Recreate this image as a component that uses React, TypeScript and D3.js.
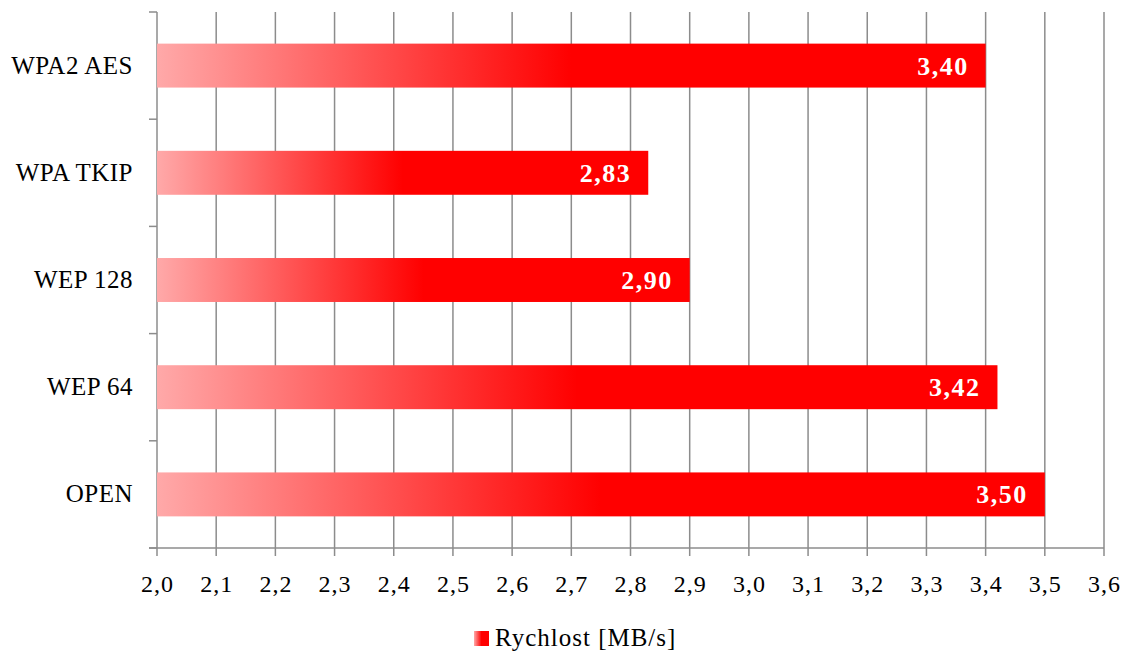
import React from "react";
import * as d3 from "d3";

const categories = ["WPA2 AES", "WPA TKIP", "WEP 128", "WEP 64", "OPEN"];
const values = [3.4, 2.83, 2.9, 3.42, 3.5];
const xTicks = [2.0, 2.1, 2.2, 2.3, 2.4, 2.5, 2.6, 2.7, 2.8, 2.9, 3.0, 3.1, 3.2, 3.3, 3.4, 3.5, 3.6];
const seriesName = "Rychlost [MB/s]";

const W = 1130;
const H = 652;
const left = 157;
const right = 1104;
const top = 12;
const bottom = 548;
const FONT = "'Liberation Serif', 'Times New Roman', serif";
const GRID = "#8c8c8c";

const fmt = (v: number, d: number) => v.toFixed(d).replace(".", ",");

export default function App() {
  const x = d3.scaleLinear().domain([2.0, 3.6]).range([left, right]);
  const y = d3.scaleBand<string>().domain(categories).range([top, bottom]).paddingInner(0.59).paddingOuter(0.295);
  const band = d3.scaleBand<string>().domain(categories).range([top, bottom]);
  const boundaries = categories.map((c) => band(c) as number).concat([bottom]);

  return (
    <svg width={W} height={H} style={{ position: "absolute", left: 0, top: 0, display: "block" }}>
      <defs>
        <linearGradient id="barGrad" x1="0" y1="0" x2="1" y2="0">
          <stop offset="0" stopColor="#ffa9a9" />
          <stop offset="0.5" stopColor="#ff0000" />
          <stop offset="1" stopColor="#ff0000" />
        </linearGradient>
        <linearGradient id="legGrad" x1="0" y1="0" x2="1" y2="0">
          <stop offset="0" stopColor="#ffa9a9" />
          <stop offset="0.5" stopColor="#ff0000" />
          <stop offset="1" stopColor="#ff0000" />
        </linearGradient>
      </defs>
      <rect x={0} y={0} width={W} height={H} fill="#fff" />
      {/* gridlines */}
      {xTicks.slice(1).map((t) => (
        <line key={"g" + t} x1={x(t)} x2={x(t)} y1={top} y2={bottom + 8} stroke={GRID} strokeWidth={1.5} />
      ))}
      {/* x axis */}
      <line x1={left - 8} x2={right} y1={bottom} y2={bottom} stroke={GRID} strokeWidth={1.5} />
      <line x1={left} x2={left} y1={bottom} y2={bottom + 8} stroke={GRID} strokeWidth={1.5} />
      {/* y axis */}
      <line x1={left} x2={left} y1={top} y2={bottom} stroke={GRID} strokeWidth={1.5} />
      {boundaries.map((b, i) => (
        <line key={"yt" + i} x1={left - 8} x2={left} y1={b} y2={b} stroke={GRID} strokeWidth={1.5} />
      ))}
      {/* bars */}
      {categories.map((c, i) => (
        <rect key={c} x={x(2.0)} y={y(c)} width={x(values[i]) - x(2.0)} height={y.bandwidth()} fill="url(#barGrad)" />
      ))}
      {/* data labels */}
      {categories.map((c, i) => (
        <text
          key={"l" + c}
          x={x(values[i]) - 17}
          y={(y(c) as number) + y.bandwidth() / 2 + 9}
          textAnchor="end"
          fill="#fff"
          fontFamily={FONT}
          fontWeight="bold"
          fontSize={26}
          letterSpacing={1.5}
        >
          {fmt(values[i], 2)}
        </text>
      ))}
      {/* category labels */}
      {categories.map((c) => (
        <text
          key={"c" + c}
          x={133}
          y={(y(c) as number) + y.bandwidth() / 2 + 8}
          textAnchor="end"
          fill="#000"
          fontFamily={FONT}
          fontSize={25}
          letterSpacing={0.5}
        >
          {c}
        </text>
      ))}
      {/* x tick labels */}
      {xTicks.map((t) => (
        <text key={"xt" + t} x={x(t) + 0.5} y={592} textAnchor="middle" fill="#000" fontFamily={FONT} fontSize={24} letterSpacing={1}>
          {fmt(t, 1)}
        </text>
      ))}
      {/* legend */}
      <rect x={474} y={631} width={15} height={15} fill="url(#legGrad)" />
      <text x={495} y={646} fill="#000" fontFamily={FONT} fontSize={25} letterSpacing={1}>
        {seriesName}
      </text>
    </svg>
  );
}
